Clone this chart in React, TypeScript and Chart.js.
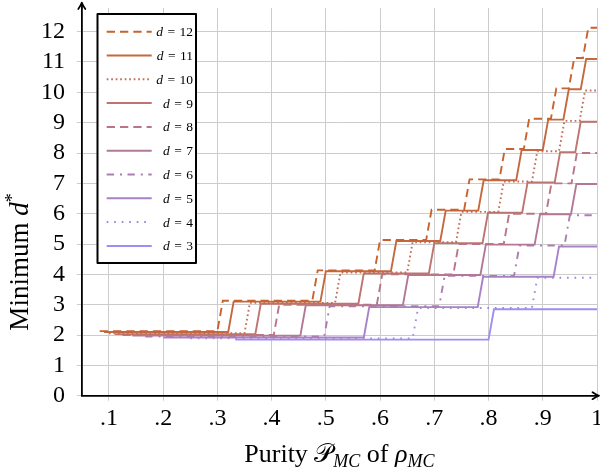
import { useEffect, useRef } from 'react';
import { Chart, registerables } from 'chart.js';

Chart.register(...registerables);

// ---- data ----
const dims = [12, 11, 10, 9, 8, 7, 6, 5, 4, 3];
// purity where each curve begins (1/d)
const startX = [0.083, 0.091, 0.1, 0.111, 0.125, 0.143, 0.167, 0.2, 0.25, 0.333];
const startLevel = 2;
// purity where each curve leaves level k for k+1 (k = 2, 3, ...)
const jumps12 = [0.3, 0.475, 0.59, 0.685, 0.755, 0.82, 0.865, 0.915, 0.948, 0.974];
const jumps11 = [0.32, 0.49, 0.62, 0.711, 0.781, 0.851, 0.9, 0.938, 0.97];
const jumps10 = [0.35, 0.517, 0.65, 0.74, 0.818, 0.88, 0.93, 0.968];
const jumps9 = [0.37, 0.56, 0.69, 0.789, 0.862, 0.922, 0.96];
const jumps8 = [0.404, 0.594, 0.735, 0.828, 0.906, 0.953];
const jumps7 = [0.453, 0.642, 0.785, 0.885, 0.952];
const jumps6 = [0.497, 0.709, 0.847, 0.94];
const jumps5 = [0.57, 0.78, 0.92];
const jumps4 = [0.66, 0.88];
const jumps3 = [0.8];
const allJumps = [jumps12, jumps11, jumps10, jumps9, jumps8, jumps7, jumps6, jumps5, jumps4, jumps3];
// small vertical separation of the curves as drawn
const levelOffset = [0.13, 0.1, 0.06, 0.03, 0, -0.02, -0.05, -0.08, -0.11, -0.15];
const riseWidth = 0.01;
const endX = 1;

const xTickValues = [0.1, 0.2, 0.3, 0.4, 0.5, 0.6, 0.7, 0.8, 0.9, 1];
const xTickLabels = ['.1', '.2', '.3', '.4', '.5', '.6', '.7', '.8', '.9', '1'];
const yTickValues = [0, 1, 2, 3, 4, 5, 6, 7, 8, 9, 10, 11, 12];

// ---- styles ----
const colors = ['#c8622e', '#c5683f', '#c36e58', '#be7470', '#b97585', '#b37899', '#ad7cb2', '#a781c9', '#a287e0', '#9d8ef5'];
const dashes: number[][] = [[8.3, 5], [], [1.7, 2.8], [], [8.3, 5], [], [7.3, 6, 2, 5.5], [], [1.7, 5.8], []];
const SERIF = '"Liberation Serif", "DejaVu Serif", serif';

function buildPoints(start: number, jumps: number[], off: number) {
  const pts: { x: number; y: number }[] = [{ x: start, y: startLevel + off }];
  let level = startLevel;
  for (const j of jumps) {
    pts.push({ x: j, y: level + off });
    level += 1;
    pts.push({ x: j + riseWidth, y: level + off });
  }
  pts.push({ x: endX, y: level + off });
  return pts;
}

function drawParts(ctx: CanvasRenderingContext2D, parts: { t: string; f: string; dy?: number }[], cx: number, by: number) {
  let total = 0;
  for (const p of parts) { ctx.font = p.f; total += ctx.measureText(p.t).width; }
  let x = cx - total / 2;
  ctx.textAlign = 'left';
  ctx.textBaseline = 'alphabetic';
  for (const p of parts) {
    ctx.font = p.f;
    ctx.fillText(p.t, x, by + (p.dy || 0));
    x += ctx.measureText(p.t).width;
  }
}

const overlay = {
  id: 'overlay',
  afterDraw(chart: any) {
    const { ctx, chartArea: a } = chart;
    ctx.save();
    // axis arrows
    ctx.strokeStyle = '#000';
    ctx.lineWidth = 1.7;
    ctx.lineCap = 'round';
    ctx.lineJoin = 'round';
    ctx.setLineDash([]);
    ctx.beginPath();
    ctx.moveTo(a.left, a.top);
    ctx.lineTo(a.left, 2.5);
    ctx.moveTo(a.left - 3.5, 9);
    ctx.quadraticCurveTo(a.left - 0.8, 5, a.left, 2.5);
    ctx.quadraticCurveTo(a.left + 0.8, 5, a.left + 3.5, 9);
    ctx.moveTo(a.right, a.bottom);
    ctx.lineTo(599, a.bottom);
    ctx.moveTo(592.5, a.bottom - 3.5);
    ctx.quadraticCurveTo(596.5, a.bottom - 0.8, 599, a.bottom);
    ctx.quadraticCurveTo(596.5, a.bottom + 0.8, 592.5, a.bottom + 3.5);
    ctx.stroke();

    // legend
    const lx = 97.5, ly = 14, lw = 98.5, lh = 249;
    ctx.fillStyle = '#fff';
    ctx.fillRect(lx, ly, lw, lh);
    ctx.lineWidth = 2;
    ctx.strokeStyle = '#000';
    ctx.strokeRect(lx, ly, lw, lh);
    chart.data.datasets.forEach((ds: any, i: number) => {
      const y = 31.7 + i * 23.8;
      ctx.strokeStyle = ds.borderColor;
      ctx.lineWidth = 2;
      ctx.lineCap = 'butt';
      ctx.setLineDash(ds.borderDash || []);
      ctx.beginPath();
      ctx.moveTo(106.7, y);
      ctx.lineTo(151.7, y);
      ctx.stroke();
      ctx.setLineDash([]);
      ctx.fillStyle = '#000';
      const fi = 'italic 13.5px ' + SERIF;
      const fr = '13.5px ' + SERIF;
      ctx.font = fi; const w1 = ctx.measureText('d').width;
      ctx.font = fr; const w2 = ctx.measureText('=').width; const w3 = ctx.measureText(String(dims[i])).width;
      const gap = 4.5;
      let x = 193 - (w1 + gap + w2 + gap + w3);
      ctx.textAlign = 'left';
      ctx.textBaseline = 'alphabetic';
      ctx.font = fi; ctx.fillText('d', x, y + 4.5); x += w1 + gap;
      ctx.font = fr; ctx.fillText('=', x, y + 4.5); x += w2 + gap;
      ctx.fillText(String(dims[i]), x, y + 4.5);
    });

    // axis titles
    ctx.fillStyle = '#000';
    const big = '26px ' + SERIF;
    const bigI = 'italic 26px ' + SERIF;
    const sub = 'italic 18px ' + SERIF;
    drawParts(ctx, [
      { t: 'Purity ', f: big },
      { t: '\u{1D4AB}', f: '26px "DejaVu Serif", "DejaVu Sans", serif' },
      { t: 'MC', f: sub, dy: 5 },
      { t: ' of ', f: big },
      { t: '\u03C1', f: bigI },
      { t: 'MC', f: sub, dy: 5 },
    ], (a.left + a.right) / 2, 462);

    ctx.translate(28, 262);
    ctx.rotate(-Math.PI / 2);
    drawParts(ctx, [
      { t: 'Minimum ', f: '27px ' + SERIF },
      { t: 'd', f: 'italic 27px ' + SERIF },
      { t: '*', f: '18px ' + SERIF, dy: -10 },
    ], 0, 0);
    ctx.restore();
  },
};

export default function App() {
  const ref = useRef<HTMLCanvasElement | null>(null);
  useEffect(() => {
    if (!ref.current) return;
    const datasets = dims.map((d, i) => ({
      label: 'd = ' + d,
      data: buildPoints(startX[i], allJumps[i], levelOffset[i]),
      borderColor: colors[i],
      backgroundColor: colors[i],
      borderWidth: 1.9,
      borderDash: dashes[i],
      borderCapStyle: 'butt' as const,
      pointRadius: 0,
      tension: 0,
      fill: false,
    }));
    const chart = new Chart(ref.current, {
      type: 'line',
      data: { datasets },
      options: {
        animation: false,
        responsive: true,
        maintainAspectRatio: false,
        layout: { padding: { top: 8, right: 3, left: 0, bottom: 0 } },
        plugins: { legend: { display: false }, tooltip: { enabled: false } },
        scales: {
          x: {
            type: 'linear',
            min: 0.05,
            max: 1,
            afterBuildTicks: (s: any) => { s.ticks = xTickValues.map((v) => ({ value: v })); },
            afterFit: (s: any) => {
              s.height = 474 - 395.7;
              s.paddingLeft = 0; s.paddingRight = 0; s.paddingTop = 0; s.paddingBottom = 0;
            },
            ticks: {
              callback: (_v: any, i: number) => xTickLabels[i],
              font: { family: SERIF, size: 24 },
              color: '#000',
              padding: 4,
              maxRotation: 0,
              autoSkip: false,
            },
            grid: { color: '#cccccc', lineWidth: 1, tickLength: 5 },
            border: { display: true, color: '#000', width: 1.8 },
          },
          y: {
            type: 'linear',
            min: 0,
            max: 12.78,
            afterBuildTicks: (s: any) => { s.ticks = yTickValues.map((v) => ({ value: v })); },
            afterFit: (s: any) => {
              s.width = 81.8;
              s.paddingLeft = 0; s.paddingRight = 0; s.paddingTop = 0; s.paddingBottom = 0;
            },
            ticks: {
              callback: (v: any) => String(v),
              font: { family: SERIF, size: 24 },
              color: '#000',
              padding: 11.8,
              autoSkip: false,
            },
            grid: { color: '#cccccc', lineWidth: 1, tickLength: 5 },
            border: { display: true, color: '#000', width: 1.8 },
          },
        },
      },
      plugins: [overlay],
    });
    return () => chart.destroy();
  }, []);
  return (
    <div style={{ position: 'absolute', left: 0, top: 0, width: 600, height: 474, background: '#fff' }}>
      <canvas ref={ref} />
    </div>
  );
}
